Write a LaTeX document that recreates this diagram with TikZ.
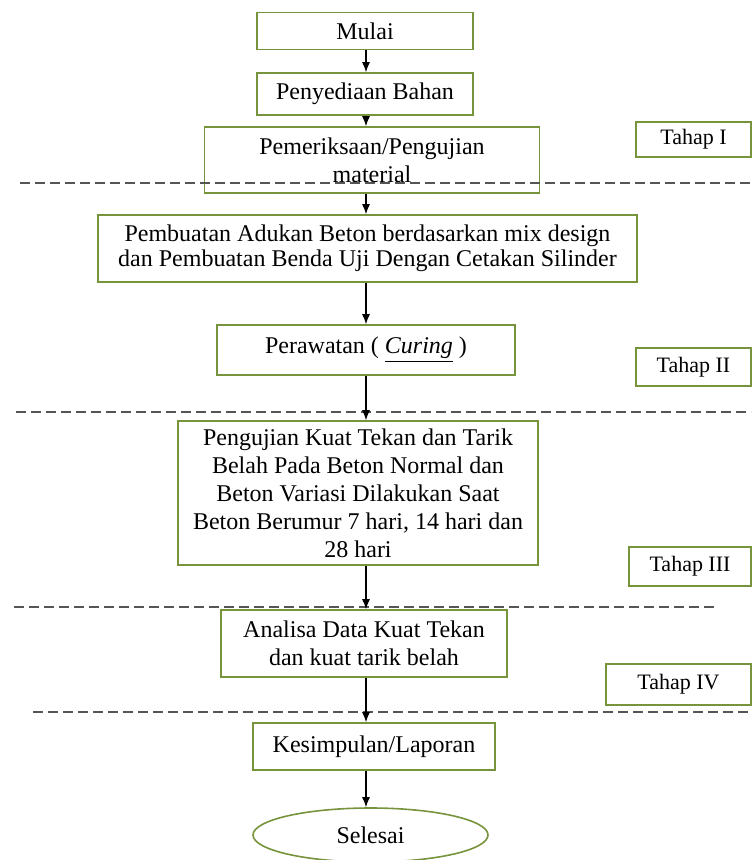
\documentclass[tikz,border=0pt]{standalone}
\usepackage{fontspec}
\setmainfont{Liberation Serif}
\usetikzlibrary{arrows.meta,shapes.geometric}
\definecolor{olive}{HTML}{77933C}
\definecolor{dashgray}{HTML}{555555}
\tikzset{
  box/.style={draw=olive, line width=0.8pt, fill=white, inner sep=1pt, align=center, font=\fontsize{12}{14}\selectfont},
  tahap/.style={box, font=\fontsize{11}{13}\selectfont},
  arr/.style={draw=black, line width=0.6pt, -{Latex[length=5pt,width=4pt]}},
  sep/.style={draw=dashgray, line width=0.6pt, dash pattern=on 5pt off 2.5pt},
}
\begin{document}
\begin{tikzpicture}[x=0.5pt,y=-0.5pt]
\useasboundingbox (0,0) rectangle (751,860);
\coordinate (ax) at (366,0);
% boxes
\node[box, minimum width=108pt, minimum height=18.5pt] (mulai) at (365,31) {Mulai};
\node[box, minimum width=108pt, minimum height=21pt] (bahan) at (365,94) {Penyediaan Bahan};
\node[box, minimum width=167.5pt, minimum height=33pt] (periksa) at (372,160) {Pemeriksaan/Pengujian\\material};
\node[tahap, minimum width=57.5pt, minimum height=17.5pt] (t1) at (693.5,139.5) {Tahap I};
\node[box, minimum width=269.5pt, minimum height=33.5pt, font=\fontsize{12}{12.5}\selectfont] (buat) at (367.5,248.5) {Pembuatan Adukan Beton berdasarkan mix design\\dan Pembuatan Benda Uji Dengan Cetakan Silinder};
\node[box, minimum width=149pt, minimum height=25pt] (rawat) at (366,350) {Perawatan ( \textit{\underline{Curing}} )};
\node[tahap, minimum width=57.5pt, minimum height=19pt] (t2) at (693.5,367) {Tahap II};
\node[box, minimum width=180pt, minimum height=72pt] (uji) at (358,493) {Pengujian Kuat Tekan dan Tarik\\Belah Pada Beton Normal dan\\Beton Variasi Dilakukan Saat\\Beton Berumur 7 hari, 14 hari dan\\28 hari};
\node[tahap, minimum width=61pt, minimum height=19.5pt] (t3) at (690,566.5) {Tahap III};
\node[box, minimum width=143pt, minimum height=33.5pt] (analisa) at (364,643.5) {Analisa Data Kuat Tekan\\dan kuat tarik belah};
\node[tahap, minimum width=72.5pt, minimum height=20.5pt] (t4) at (678.5,684.5) {Tahap IV};
\node[box, minimum width=121pt, minimum height=23.5pt] (kes) at (374,746.5) {Kesimpulan/Laporan};
\node[box, ellipse, minimum width=117.5pt, minimum height=27pt, inner sep=0pt] (selesai) at (370.5,835) {Selesai};
% separators
\coordinate (d1a) at (20,183);  \coordinate (d1b) at (751,183);
\coordinate (d2a) at (16,412);  \coordinate (d2b) at (751,412);
\coordinate (d3a) at (14,607);  \coordinate (d3b) at (718,607);
\coordinate (d4a) at (33,712);  \coordinate (d4b) at (751,712);
\draw[sep] (d1a) -- (d1b);
\draw[sep] (d2a) -- (d2b);
\draw[sep] (d3a) -- (d3b);
\draw[sep] (d4a) -- (d4b);
% arrows
\draw[arr] (mulai.south -| ax) -- (bahan.north -| ax);
\draw[arr] (bahan.south -| ax) -- (periksa.north -| ax);
\draw[arr] (periksa.south -| ax) -- (buat.north -| ax);
\draw[arr] (buat.south -| ax) -- (rawat.north -| ax);
\draw[arr] (rawat.south -| ax) -- (uji.north -| ax);
\draw[arr] (uji.south -| ax) -- (analisa.north -| ax);
\draw[arr] (analisa.south -| ax) -- (kes.north -| ax);
\draw[arr] (kes.south -| ax) -- (selesai.north -| ax);
\end{tikzpicture}
\end{document}
